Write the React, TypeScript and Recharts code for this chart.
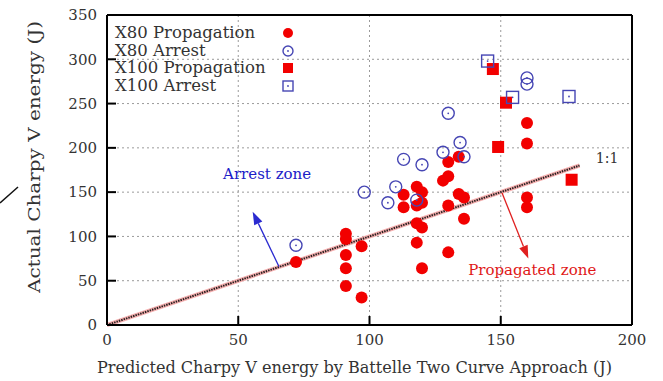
import React from "react";
import {
  ScatterChart,
  Scatter,
  XAxis,
  YAxis,
  CartesianGrid,
  ReferenceLine,
  ReferenceDot,
  Legend,
  Label,
} from "recharts";

const FONT = "'DejaVu Serif', serif";
const RED = "#f20000";
const BLUE = "#4646b4";

const xTicks = [0, 50, 100, 150, 200];
const yTicks = [0, 50, 100, 150, 200, 250, 300, 350];

// [predicted, actual] in J
const x80Propagation = [
  [72, 71], [91, 103], [91, 97], [91, 79], [91, 64], [91, 44], [97, 89], [97, 31],
  [113, 147], [113, 133], [118, 156], [120, 150], [118, 135], [120, 138], [118, 115],
  [120, 110], [118, 93], [120, 64], [128, 163], [130, 168], [130, 184], [134, 190],
  [134, 148], [136, 144], [130, 135], [136, 120], [130, 82], [160, 228], [160, 205],
  [160, 144], [160, 133],
];
const x80Arrest = [
  [72, 90], [98, 150], [107, 138], [110, 156], [113, 187], [118, 141], [120, 181],
  [128, 195], [130, 239], [134.5, 206], [136, 190], [160, 279], [160, 272],
];
const x100Propagation = [[147, 289], [152, 251], [149, 201], [177, 164]];
const x100Arrest = [[145, 298], [154.5, 257], [176, 258]];

const oneToOne = [{ x: 0, y: 0 }, { x: 180, y: 180 }];
const arrestArrow = [{ x: 65.5, y: 66 }, { x: 55.5, y: 128 }];
const propagatedArrow = [{ x: 150.5, y: 149 }, { x: 160.5, y: 75 }];

const notes = [
  { x: 61, y: 170, text: "Arrest zone", color: "#2020c8", size: 15 },
  { x: 162, y: 62, text: "Propagated zone", color: "#e01818", size: 15 },
  { x: 190.5, y: 189, text: "1:1", color: "#333", size: 14 },
];

const toPoints = (arr: number[][]) => arr.map(([x, y]) => ({ x, y }));

const RedCircle = ({ cx, cy, r = 6 }: any) => <circle cx={cx} cy={cy} r={r} fill={RED} />;
const BlueCircle = ({ cx, cy, r = 6 }: any) => (
  <g>
    <circle cx={cx} cy={cy} r={r} fill="none" stroke={BLUE} strokeWidth={1.4} />
    <circle cx={cx} cy={cy} r={0.9} fill={BLUE} />
  </g>
);
const RedSquare = ({ cx, cy, r = 6 }: any) => (
  <rect x={cx - r} y={cy - r} width={2 * r} height={2 * r} fill={RED} />
);
const BlueSquare = ({ cx, cy, r = 6 }: any) => (
  <g>
    <rect x={cx - r} y={cy - r} width={2 * r} height={2 * r} fill="none" stroke={BLUE} strokeWidth={1.4} />
    <circle cx={cx} cy={cy} r={0.9} fill={BLUE} />
  </g>
);

const series = [
  { name: "X80 Propagation", data: x80Propagation, Shape: RedCircle },
  { name: "X80 Arrest", data: x80Arrest, Shape: BlueCircle },
  { name: "X100 Propagation", data: x100Propagation, Shape: RedSquare },
  { name: "X100 Arrest", data: x100Arrest, Shape: BlueSquare },
];

const renderLegend = () => (
  <div style={{ fontFamily: FONT, fontSize: 16.5, color: "#333", width: 179 }}>
    {series.map(({ name, Shape }) => (
      <div
        key={name}
        style={{
          display: "flex",
          justifyContent: "space-between",
          alignItems: "center",
          height: 17.7,
          lineHeight: "17.7px",
          whiteSpace: "nowrap",
        }}
      >
        <span>{name}</span>
        <svg width={12} height={12}>
          <Shape cx={6} cy={6} r={5} />
        </svg>
      </div>
    ))}
  </div>
);

const Arrow = ({ x1, y1, x2, y2, stroke }: any) => {
  const a = Math.atan2(y2 - y1, x2 - x1);
  const len = 13;
  const w = 4.5;
  const bx = x2 - len * Math.cos(a);
  const by = y2 - len * Math.sin(a);
  const px = -Math.sin(a) * w;
  const py = Math.cos(a) * w;
  return (
    <g>
      <line x1={x1} y1={y1} x2={bx} y2={by} stroke={stroke} strokeWidth={1.3} />
      <polygon points={`${x2},${y2} ${bx + px},${by + py} ${bx - px},${by - py}`} fill={stroke} />
    </g>
  );
};

const OneToOneLine = ({ x1, y1, x2, y2 }: any) => (
  <g>
    <line x1={x1} y1={y1} x2={x2} y2={y2} stroke="#f5b0b0" strokeWidth={4.2} />
    <line x1={x1} y1={y1} x2={x2} y2={y2} stroke="#2a2020" strokeWidth={2} strokeDasharray="1.5 1" />
  </g>
);

const XTitle = ({ viewBox }: any) => {
  const cx = viewBox.x + viewBox.width / 2 - 15;
  const cy = viewBox.y + 42;
  return (
    <text
      x={cx}
      y={cy}
      textAnchor="middle"
      dominantBaseline="central"
      fontFamily={FONT}
      fontSize={16}
      fill="#333"
      textLength={515}
      lengthAdjust="spacingAndGlyphs"
    >
      Predicted Charpy V energy by Battelle Two Curve Approach (J)
    </text>
  );
};

const YTitle = ({ viewBox }: any) => {
  const cx = viewBox.x + 34;
  const cy = viewBox.y + viewBox.height / 2 - 13;
  return (
    <text
      x={cx}
      y={cy}
      transform={`rotate(-90 ${cx} ${cy})`}
      textAnchor="middle"
      dominantBaseline="central"
      fontFamily={FONT}
      fontSize={16}
      fill="#333"
      textLength={272}
      lengthAdjust="spacingAndGlyphs"
    >
      Actual Charpy V energy (J)
    </text>
  );
};

const axisLine = { stroke: "#000", strokeWidth: 2 };
const tickStyle = { fontFamily: FONT, fontSize: 15, fill: "#333" };

export default function App() {
  return (
    <div style={{ position: "absolute", left: 0, top: 0, width: 663, height: 381, background: "#fff" }}>
      <ScatterChart width={663} height={381} margin={{ top: 14, right: 30, left: 0, bottom: 0 }}>
        <CartesianGrid stroke="#9a9a9a" strokeDasharray="2 3" />
        <XAxis
          type="number"
          dataKey="x"
          domain={[0, 200]}
          ticks={xTicks}
          height={56}
          axisLine={axisLine}
          tickLine={axisLine}
          tickSize={-9}
          tickMargin={18}
          tick={tickStyle}
        >
          <Label content={<XTitle />} />
        </XAxis>
        <XAxis
          xAxisId="top"
          orientation="top"
          type="number"
          domain={[0, 200]}
          ticks={xTicks}
          height={1}
          axisLine={axisLine}
          tickLine={axisLine}
          tickSize={-9}
          tick={false}
        />
        <YAxis
          type="number"
          dataKey="y"
          domain={[0, 350]}
          ticks={yTicks}
          width={107}
          axisLine={axisLine}
          tickLine={axisLine}
          tickSize={-9}
          tickMargin={19}
          tick={tickStyle}
        >
          <Label content={<YTitle />} />
        </YAxis>
        <YAxis
          yAxisId="right"
          orientation="right"
          type="number"
          domain={[0, 350]}
          ticks={yTicks}
          width={1}
          axisLine={axisLine}
          tickLine={axisLine}
          tickSize={-9}
          tick={false}
        />
        <ReferenceLine segment={oneToOne} shape={(p: any) => <OneToOneLine {...p} />} />
        <ReferenceLine segment={arrestArrow} shape={(p: any) => <Arrow {...p} stroke="#2a2ad0" />} />
        <ReferenceLine segment={propagatedArrow} shape={(p: any) => <Arrow {...p} stroke="#e02020" />} />
        {series.map(({ name, data, Shape }) => (
          <Scatter
            key={name}
            name={name}
            data={toPoints(data)}
            shape={(p: any) => <Shape cx={p.cx} cy={p.cy} />}
            isAnimationActive={false}
          />
        ))}
        {notes.map((n) => (
          <ReferenceDot
            key={n.text}
            x={n.x}
            y={n.y}
            shape={(p: any) => (
              <text
                x={p.cx}
                y={p.cy}
                textAnchor="middle"
                dominantBaseline="central"
                fontFamily={FONT}
                fontSize={n.size}
                fill={n.color}
              >
                {n.text}
              </text>
            )}
          />
        ))}
        <Legend
          layout="vertical"
          align="center"
          verticalAlign="middle"
          content={renderLegend}
          wrapperStyle={{ position: "absolute", left: 115, top: 24, width: 179 }}
        />
      </ScatterChart>
      <svg style={{ position: "absolute", left: 0, top: 0 }} width={30} height={381}>
        <line x1={0} y1={203} x2={18} y2={187} stroke="#111" strokeWidth={1.5} />
      </svg>
    </div>
  );
}
